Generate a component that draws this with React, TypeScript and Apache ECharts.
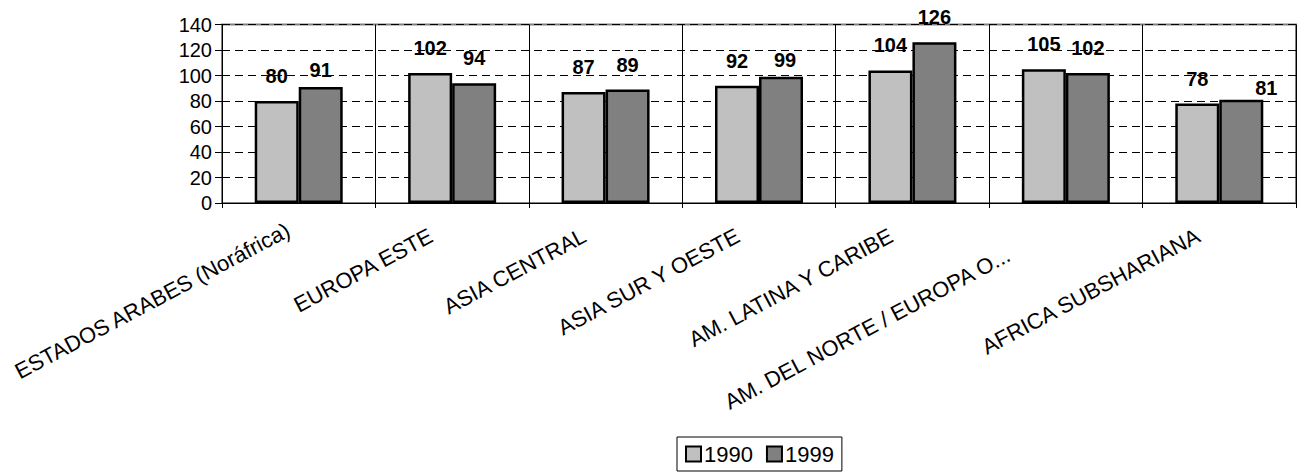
import React, { useEffect, useRef } from "react";
import * as echarts from "echarts";

const categories = [
  "ESTADOS ARABES (Noráfrica)",
  "EUROPA ESTE",
  "ASIA CENTRAL",
  "ASIA SUR Y OESTE",
  "AM. LATINA Y CARIBE",
  "AM. DEL NORTE / EUROPA O...",
  "AFRICA SUBSHARIANA",
];
const seriesNames = ["1990", "1999"];
const values1990 = [80, 102, 87, 92, 104, 105, 78];
const values1999 = [91, 94, 89, 99, 126, 102, 81];
const yTicks = [0, 20, 40, 60, 80, 100, 120, 140];

// Hand-placed label tweaks: [dx, dy] for the 1999 value labels,
// and [top, right, bottom, left] padding for the slanted category labels.
const labelNudge1999: [number, number][] = [
  [0, 8], [0, 0], [0, 0], [4, 8], [0, 0], [0, 0], [25, 13],
];
const categoryPadding: number[][] = [
  [18, 12, 0, 0],
  [0, 24, 0, 0],
  [0, 24, 0, 0],
  [0, 24, 0, 0],
  [0, 24, 0, 0],
  [0, 65, 31, 0],
  [0, 24, 0, 0],
];

const FONT = "'Liberation Sans', Arial, sans-serif";

export default function App() {
  const ref = useRef<HTMLDivElement>(null);

  useEffect(() => {
    if (!ref.current) return;
    const chart = echarts.init(ref.current, null, { renderer: "svg" });

    const barStyle = (color: string) => ({
      color,
      borderColor: "#000",
      borderWidth: 2.5,
    });
    const label = {
      show: true,
      position: "top" as const,
      distance: 15,
      fontFamily: FONT,
      fontSize: 20,
      fontWeight: "bold" as const,
      color: "#000",
    };

    chart.setOption({
      animation: false,
      backgroundColor: "#fff",
      textStyle: { fontFamily: FONT },
      grid: {
        left: 222,
        right: 2,
        top: 24.5,
        bottom: 269,
        show: true,
        borderColor: "#808080",
        borderWidth: 2,
        backgroundColor: "transparent",
      },
      legend: {
        left: 677,
        top: 437,
        orient: "horizontal",
        data: seriesNames,
        icon: "rect",
        itemWidth: 15,
        itemHeight: 15,
        itemGap: 13,
        itemStyle: { borderColor: "#000", borderWidth: 2 },
        borderColor: "#000",
        borderWidth: 1,
        borderRadius: 0,
        padding: [6, 8, 6, 8],
        textStyle: {
          fontFamily: FONT,
          fontSize: 22,
          color: "#000",
          padding: [0, 0, 0, -2],
        },
      },
      xAxis: {
        type: "category",
        data: categories.map((name, i) => ({
          value: name,
          textStyle: { padding: categoryPadding[i] },
        })),
        boundaryGap: true,
        axisLine: { show: true, lineStyle: { color: "#000", width: 1 } },
        axisTick: { show: true, length: 5, inside: false, lineStyle: { color: "#000" } },
        splitLine: { show: true, lineStyle: { color: "#000", width: 1, type: "solid" } },
        axisLabel: {
          interval: 0,
          rotate: 28,
          margin: 20,
          fontFamily: FONT,
          fontSize: 22,
          color: "#000",
        },
      },
      yAxis: {
        type: "value",
        min: yTicks[0],
        max: yTicks[yTicks.length - 1],
        interval: yTicks[1] - yTicks[0],
        axisLine: { show: true, lineStyle: { color: "#000", width: 1 } },
        axisTick: { show: true, length: 7, lineStyle: { color: "#000" } },
        axisLabel: { margin: 10, fontFamily: FONT, fontSize: 20, color: "#000" },
        splitLine: {
          show: true,
          lineStyle: { color: "#000", width: 1, type: [8, 5] },
        },
      },
      series: [
        {
          name: seriesNames[0],
          type: "bar",
          data: values1990,
          barWidth: 44,
          barGap: "0%",
          itemStyle: barStyle("#C0C0C0"),
          label,
        },
        {
          name: seriesNames[1],
          type: "bar",
          data: values1999.map((v, i) => ({
            value: v,
            label: { offset: labelNudge1999[i] },
          })),
          barWidth: 44,
          barGap: "0%",
          itemStyle: barStyle("#808080"),
          label,
        },
      ],
    });

    return () => chart.dispose();
  }, []);

  return (
    <div
      ref={ref}
      style={{ position: "absolute", left: 0, top: 0, width: 1298, height: 472 }}
    />
  );
}
